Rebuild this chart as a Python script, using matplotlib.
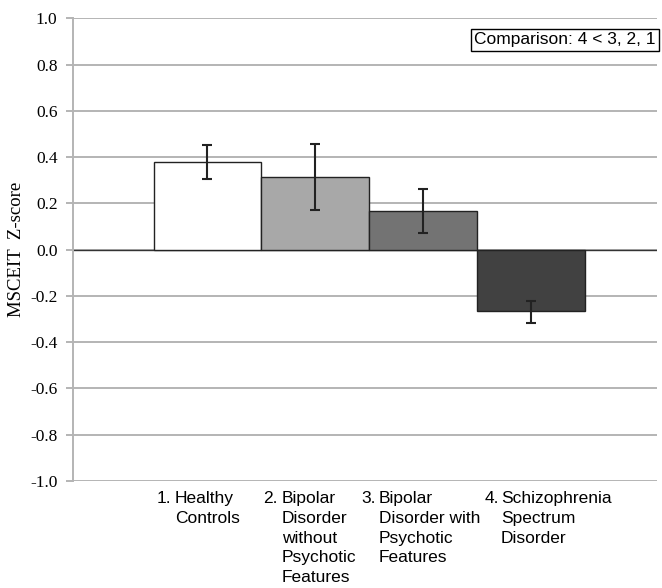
import numpy as np
import matplotlib.pyplot as plt

plt.rcParams["font.family"] = "Liberation Serif"

# values
groups = ["Healthy\nControls",
          "Bipolar\nDisorder\nwithout\nPsychotic\nFeatures",
          "Bipolar\nDisorder with\nPsychotic\nFeatures",
          "Schizophrenia\nSpectrum\nDisorder"]
numbers = ["1.", "2.", "3.", "4."]
means = [0.378, 0.314, 0.169, -0.264]
err_low = [0.075, 0.141, 0.098, 0.055]
err_high = [0.075, 0.143, 0.091, 0.043]
bar_colors = ["#ffffff", "#a8a8a8", "#737373", "#414141"]
yticks = np.round(np.arange(-1.0, 1.01, 0.2), 1)

fig = plt.figure(figsize=(6.62, 5.88), dpi=100)
ax = fig.add_axes([0.110, 0.182, 0.882, 0.787])

x = np.arange(len(means))
ax.bar(x, means, width=1.0, color=bar_colors, edgecolor="#222222", linewidth=1.0, zorder=3)
ax.errorbar(x, means, yerr=[err_low, err_high], fmt="none", ecolor="#222222",
            elinewidth=1.5, capsize=3.5, capthick=1.5, zorder=4)

ax.set_xlim(-1.25, 4.17)
ax.set_ylim(-1.0, 1.0)
ax.set_yticks(yticks)
ax.set_yticklabels([f"{abs(v):.1f}" if v == 0 else f"{v:.1f}" for v in yticks], fontsize=12.5)
ax.set_xticks([])
ax.yaxis.grid(True, color="#b4b4b4", linewidth=1.4, zorder=0)
ax.axhline(0, color="#333333", linewidth=1.0, zorder=2)
ax.tick_params(axis="y", length=5, width=1.4, color="#b4b4b4", pad=6,
               labelfontfamily="Liberation Serif")
for s in ["top", "right", "bottom"]:
    ax.spines[s].set_visible(False)
ax.spines["left"].set_color("#b4b4b4")
ax.spines["left"].set_linewidth(1.4)
ax.set_ylabel("MSCEIT  Z-score", fontsize=13.5, labelpad=4)

# category labels with hanging indent
num_px = [157, 263, 361, 485]
txt_px = [175, 282, 379, 501]
for n, g, xn, xt in zip(numbers, groups, num_px, txt_px):
    fig.text(xn / 662, 1 - 491 / 588, n, family="Liberation Sans", fontsize=12.5,
             ha="left", va="top")
    fig.text(xt / 662, 1 - 491 / 588, g, family="Liberation Sans", fontsize=12.5,
             ha="left", va="top", linespacing=1.4)

ax.text(0.998, 0.953, "Comparison: 4 < 3, 2, 1", transform=ax.transAxes,
        family="Liberation Sans", fontsize=12.5, ha="right", va="center",
        bbox=dict(boxstyle="square,pad=0.2", facecolor="white", edgecolor="black", linewidth=1.0))

fig.savefig("out.png", dpi=100)
